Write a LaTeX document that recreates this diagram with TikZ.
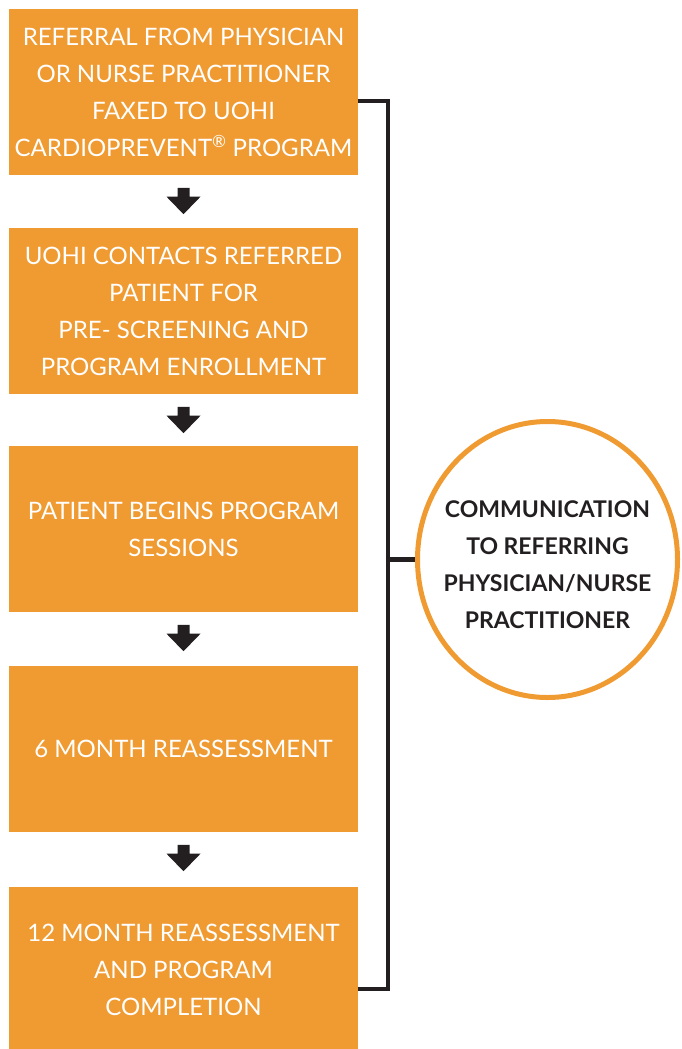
\documentclass[tikz,border=0pt]{standalone}
\usepackage{fontspec}
\setmainfont{Lato}
\usetikzlibrary{calc,shapes.geometric}
\definecolor{uorange}{RGB}{240,155,50}
\definecolor{udark}{RGB}{35,31,32}
\newcommand{\flowarrow}[1]{%
  \fill[udark] ($(#1.south)+(-6,12.7)$) -- ($(#1.south)+(6,12.7)$) -- ($(#1.south)+(6,21.5)$) -- ($(#1.south)+(17,21.5)$) -- ($(#1.south)+(0,39)$) -- ($(#1.south)+(-17,21.5)$) -- ($(#1.south)+(-6,21.5)$) -- cycle;}
\begin{document}
\begin{tikzpicture}[x=1pt,y=-1pt,
  stepbox/.style={fill=uorange, minimum width=349pt, minimum height=166pt, inner sep=0pt,
    text=white, align=center, font=\fontsize{24}{37}\selectfont},
  conn/.style={draw=udark, line width=4.2pt, line join=miter},
  commcircle/.style={ellipse, draw=uorange, line width=5pt, fill=white,
    minimum width=260pt, minimum height=276pt, inner sep=0pt},
  commtext/.style={text=udark, align=center, inner sep=0pt, font=\fontsize{23}{37}\selectfont\bfseries}]
\useasboundingbox (0,0) rectangle (681,1049);
\node[stepbox] (b1) at (183.5,92) {REFERRAL FROM PHYSICIAN\\OR NURSE PRACTITIONER\\FAXED TO UOHI\\CARDIOPREVENT\textsuperscript{\textregistered} PROGRAM};
\node[stepbox] (b2) at (183.5,311) {UOHI CONTACTS REFERRED\\PATIENT FOR\\PRE- SCREENING AND\\PROGRAM ENROLLMENT};
\node[stepbox] (b3) at (183.5,529) {PATIENT BEGINS PROGRAM\\SESSIONS};
\node[stepbox] (b4) at (183.5,749) {6 MONTH REASSESSMENT};
\node[stepbox] (b5) at (183.5,970) {12 MONTH REASSESSMENT\\AND PROGRAM\\COMPLETION};
\node[commcircle] (c) at (547.5,559.5) {};
\node[commtext] (ct) at ($(c.center)+(0,5)$) {COMMUNICATION\\TO REFERRING\\PHYSICIAN/NURSE\\PRACTITIONER};
\flowarrow{b1}
\flowarrow{b2}
\flowarrow{b3}
\flowarrow{b4}
\coordinate (s1) at ([yshift=-9pt]b1.east);
\coordinate (s5) at ([yshift=-19pt]b5.east);
\coordinate (sp) at ($(s1)+(30,0)$);
\draw[conn] (s1) -- (sp) -- (sp |- s5) -- (s5);
\draw[conn] (sp |- c.west) -- (c.west);
\end{tikzpicture}
\end{document}
